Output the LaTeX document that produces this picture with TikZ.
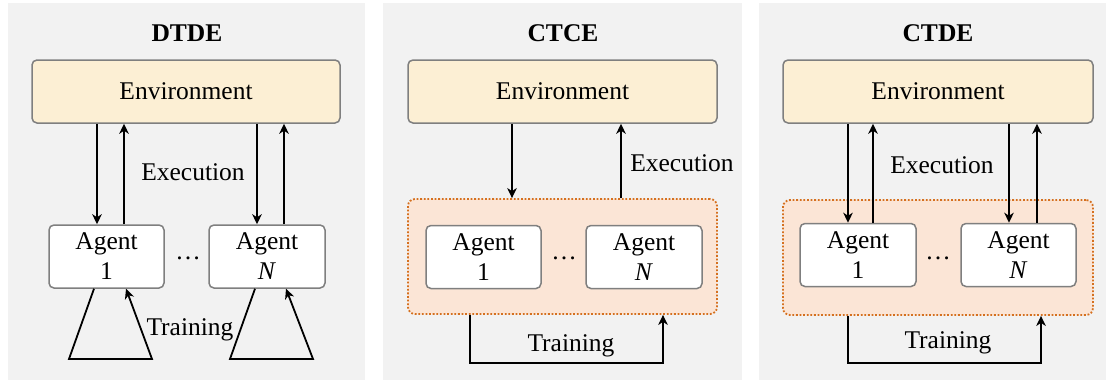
\documentclass[tikz,border=0pt]{standalone}
\usepackage{fontspec}
\setmainfont{Liberation Serif}
\usetikzlibrary{arrows.meta,calc}
\definecolor{panelbg}{HTML}{F2F2F2}
\definecolor{envfill}{HTML}{FCEFD4}
\definecolor{boxline}{HTML}{7F7F7F}
\definecolor{grpfill}{HTML}{FBE5D6}
\definecolor{grpline}{HTML}{D5701F}
\begin{document}
\begin{tikzpicture}[x=1pt,y=-1pt,
  every node/.style={font=\fontsize{25.5}{30}\selectfont, inner sep=0pt},
  panel/.style={fill=panelbg, draw=none},
  envbox/.style={draw=boxline, fill=envfill, line width=1.5pt, rounded corners=5pt, minimum height=63pt},
  agentbox/.style={draw=boxline, fill=white, line width=1.5pt, rounded corners=5pt, minimum height=63pt, align=center},
  grpbox/.style={draw=grpline, fill=grpfill, line width=1.8pt, dash pattern=on 1.8pt off 1.8pt, rounded corners=7pt, minimum width=309pt, minimum height=115pt},
  title/.style={font=\bfseries\fontsize{25.5}{30}\selectfont},
  arr/.style={line width=1.8pt, -{Stealth[length=10pt, width=9.5pt, inset=3pt]}},
  plain/.style={line width=1.8pt}
]
\useasboundingbox (0,0) rectangle (1106,380);
\fill[white] (0,0) rectangle (1106,380);

% ---------- panel backgrounds ----------
\path[panel] (8,3) rectangle (365,380);
\path[panel] (383,3) rectangle (742,380);
\path[panel] (759,3) rectangle (1106,380);

% ================= DTDE =================
\node[title] (t1) at (187,33) {DTDE};
\node[envbox, minimum width=308pt] (env1) at (186,91.5) {Environment};
\node[agentbox, minimum width=115pt] (ag11) at (106.5,256.5) {Agent\\1};
\node[agentbox, minimum width=116pt] (ag1N) at (267,256.5) {Agent\\\textit{N}};
\node (dots1) at (188,258) {\ldots};
\node (ex1) at (193,172) {Execution};

\draw[arr] ([xshift=-9.5pt]ag11.north |- env1.south) -- ([xshift=-9.5pt]ag11.north);
\draw[arr] ([xshift=17.5pt]ag11.north) -- ([xshift=17.5pt]ag11.north |- env1.south);
\draw[arr] ([xshift=-10pt]ag1N.north |- env1.south) -- ([xshift=-10pt]ag1N.north);
\draw[arr] ([xshift=17pt]ag1N.north) -- ([xshift=17pt]ag1N.north |- env1.south);

\coordinate (tri1a) at (69,359);
\coordinate (tri1b) at (152,359);
\coordinate (tri2a) at (230,359);
\coordinate (tri2b) at (313,359);
\draw[arr, line join=miter] ([xshift=-12.5pt]ag11.south) -- (tri1a) -- (tri1b) -- ([xshift=19.5pt]ag11.south);
\draw[arr, line join=miter] ([xshift=-12pt]ag1N.south) -- (tri2a) -- (tri2b) -- ([xshift=19pt]ag1N.south);
\node (tr1) at (190,330) {Training};

% ================= CTCE =================
\node[title] (t2) at (563,33) {CTCE};
\node[envbox, minimum width=309pt] (env2) at (562.5,91.5) {Environment};
\node[grpbox] (grp2) at (562.5,256.5) {};
\node[agentbox, minimum width=115pt] (ag21) at (483.5,257) {Agent\\1};
\node[agentbox, minimum width=116pt] (ag2N) at (644,257) {Agent\\\textit{N}};
\node (dots2) at (564,258) {\ldots};
\node (ex2) at (682,163) {Execution};

\draw[arr] ([xshift=-50.5pt]env2.south) -- ([xshift=-50.5pt]env2.south |- grp2.north);
\draw[arr] ([xshift=58.5pt]env2.south |- grp2.north) -- ([xshift=58.5pt]env2.south);

\coordinate (bl2) at (470,363);
\coordinate (br2) at (663,363);
\draw[arr] (grp2.south -| bl2) -- (bl2) -- (br2) -- (grp2.south -| br2);
\node (tr2) at (571,346) {Training};

% ================= CTDE =================
\node[title] (t3) at (938,33) {CTDE};
\node[envbox, minimum width=310pt] (env3) at (938,91.5) {Environment};
\node[grpbox, minimum width=310pt] (grp3) at (938,257.5) {};
\node[agentbox, minimum width=116pt] (ag31) at (858,255) {Agent\\1};
\node[agentbox, minimum width=115pt] (ag3N) at (1018.5,255) {Agent\\\textit{N}};
\node (dots3) at (938,258) {\ldots};
\node (ex3) at (942,165) {Execution};

\draw[arr] ([xshift=-10pt]ag31.north |- env3.south) -- ([xshift=-10pt]ag31.north);
\draw[arr] ([xshift=15pt]ag31.north) -- ([xshift=15pt]ag31.north |- env3.south);
\draw[arr] ([xshift=-9.5pt]ag3N.north |- env3.south) -- ([xshift=-9.5pt]ag3N.north);
\draw[arr] ([xshift=18.5pt]ag3N.north) -- ([xshift=18.5pt]ag3N.north |- env3.south);

\coordinate (bl3) at (848,363);
\coordinate (br3) at (1041,363);
\draw[arr] (grp3.south -| bl3) -- (bl3) -- (br3) -- (grp3.south -| br3);
\node (tr3) at (948,343) {Training};
\end{tikzpicture}
\end{document}
